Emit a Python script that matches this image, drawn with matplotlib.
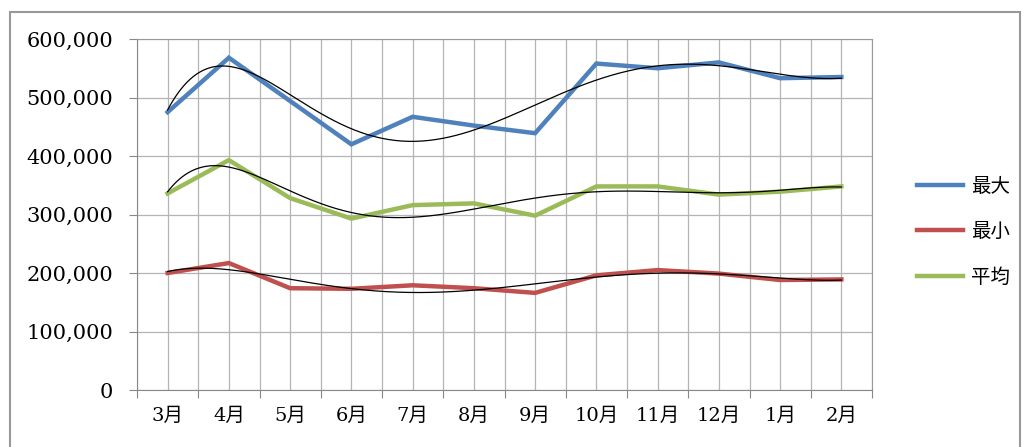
import numpy as np
import matplotlib
matplotlib.use("Agg")
from matplotlib import pyplot as plt
from matplotlib.patches import Rectangle

months = ["3月", "4月", "5月", "6月", "7月", "8月", "9月", "10月", "11月", "12月", "1月", "2月"]
max_vals = [475000, 568000, 494000, 420000, 467000, 452000, 439000, 558000, 550000, 560000, 533000, 535000]
min_vals = [200000, 217000, 174000, 173000, 179000, 174000, 166000, 196000, 205000, 199000, 188000, 189000]
avg_vals = [336000, 393000, 328000, 293000, 316000, 319000, 298000, 348000, 348000, 334000, 339000, 348000]

names = ["最大", "最小", "平均"]
colors = ["#4F81BD", "#C0504D", "#9BBB59"]

fonts = ["DejaVu Serif", "Noto Sans CJK JP"]
plt.rcParams["font.family"] = fonts

fig = plt.figure(figsize=(10.24, 4.47), dpi=100)
ax = fig.add_axes([137 / 1024, 1 - 390 / 447, 735 / 1024, 351 / 447])

x = np.arange(len(months))
xs = np.linspace(0, len(months) - 1, 300)

for vals, c, n in zip([max_vals, min_vals, avg_vals], colors, names):
    ax.plot(x, vals, color=c, lw=3.2, label=n, zorder=3, solid_joinstyle="miter")
    # polynomial trend line like excel
    p = np.polyfit(x, vals, 6)
    ax.plot(xs, np.polyval(p, xs), color="black", lw=0.9, zorder=4)

ax.set_xlim(-0.5, len(months) - 0.5)
ax.set_ylim(0, 600000)
ax.set_yticks(np.arange(0, 600001, 100000))
ax.set_yticklabels([f"{v:,}" for v in range(0, 600001, 100000)], fontsize=15)

# ticks at category boundaries, labels at centers
ax.set_xticks(np.arange(-0.5, len(months), 1.0))
ax.set_xticklabels([])
ax.set_xticks(x, minor=True)
ax.set_xticklabels(months, minor=True, fontsize=14)
ax.tick_params(axis="x", which="minor", length=0, pad=12)
ax.tick_params(axis="x", which="major", length=6, color="#888888")
ax.tick_params(axis="y", length=6, pad=11, color="#888888")

ax.grid(True, which="both", axis="x", color="#b4b4b4", lw=0.9)
ax.grid(True, which="major", axis="y", color="#b4b4b4", lw=0.9)
ax.set_axisbelow(True)
for s in ax.spines.values():
    s.set_color("#999999")
ax.spines["left"].set_color("#888888")
ax.spines["bottom"].set_color("#888888")

leg = fig.legend(loc="center left", bbox_to_anchor=(0.878, 0.48), frameon=False,
                 fontsize=14, labelspacing=1.4, handlelength=2.4, handletextpad=0.4)

fig.patches.append(Rectangle((10 / 1024, -0.05), 1010 / 1024, 1.0 - 12 / 447 + 0.05,
                             transform=fig.transFigure, fill=False,
                             edgecolor="#999999", lw=1.5))

fig.savefig("out.png", dpi=100)
